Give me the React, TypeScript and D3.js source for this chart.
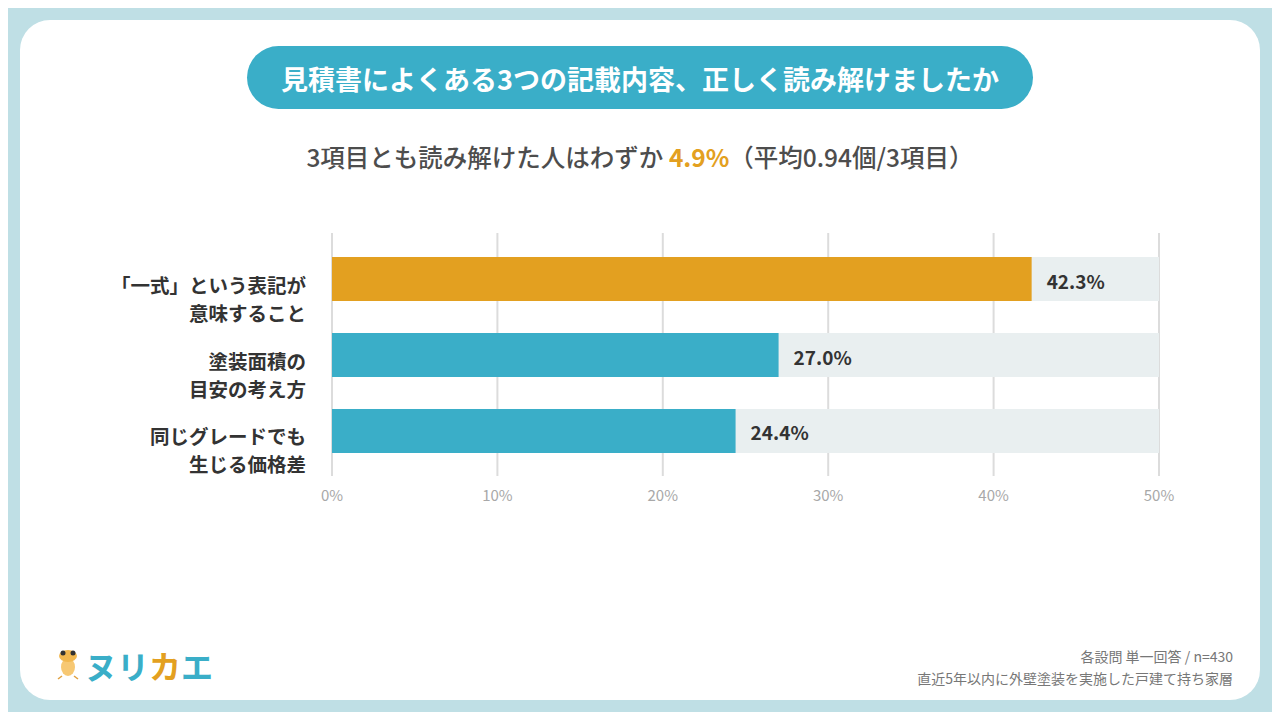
import React from "react";
import * as d3 from "d3";

const categories = [
  ["「一式」という表記が", "意味すること"],
  ["塗装面積の", "目安の考え方"],
  ["同じグレードでも", "生じる価格差"],
];
const values = [42.3, 27.0, 24.4];
const barColors = ["#e3a020", "#3aaec8", "#3aaec8"];
const ticks = [0, 10, 20, 30, 40, 50];
const title = "見積書によくある3つの記載内容、正しく読み解けましたか";
const footer = ["各設問 単一回答 / n=430", "直近5年以内に外壁塗装を実施した戸建て持ち家層"];

const FONT = "'Noto Sans CJK JP', 'Noto Sans', sans-serif";

export default function App() {
  const W = 1280, H = 720;
  const x = d3.scaleLinear().domain([0, 50]).range([332, 1159]);
  const y = d3.scaleBand<number>().domain(d3.range(categories.length)).range([257, 453]).paddingInner(0.421).paddingOuter(0);
  const bh = y.bandwidth();
  return (
    <div style={{ margin: -8, width: W, height: H }}>
      <svg width={W} height={H} style={{ display: "block", fontFamily: FONT }}>
        <rect x={0} y={0} width={W} height={H} fill="#bfdfe5" />
        <rect x={20} y={20} width={1240} height={680} rx={30} fill="#ffffff" />
        {/* title pill */}
        <rect x={247} y={46} width={786} height={63} rx={31.5} fill="#3aaec8" />
        <text x={640} y={78} textAnchor="middle" dominantBaseline="central" fill="#fff" fontSize={27} fontWeight={700}>{title}</text>
        {/* subtitle */}
        <text x={640} y={156} textAnchor="middle" dominantBaseline="central" fontSize={24.5} fill="#4d4d4d" fontWeight={500}>
          3項目とも読み解けた人はわずか <tspan fill="#e3a020" fontWeight={700}>4.9%</tspan>（平均0.94個/3項目）
        </text>
        {/* grid */}
        {ticks.map((t) => (
          <g key={t}>
            <line x1={x(t)} x2={x(t)} y1={233} y2={476} stroke="#dcdcdc" strokeWidth={2} />
            <text x={x(t)} y={494} textAnchor="middle" dominantBaseline="central" fontSize={15} fill="#a8a8a8">{t}%</text>
          </g>
        ))}
        {values.map((v, i) => {
          const y0 = y(i)!;
          return (
            <g key={i}>
              <rect x={x(0)} y={y0} width={x(50) - x(0)} height={bh} fill="#e9eff0" />
              <rect x={x(0)} y={y0} width={x(v) - x(0)} height={bh} fill={barColors[i]} />
              <text x={x(v) + 15} y={y0 + bh / 2 + 1} dominantBaseline="central" fontSize={19} fontWeight={700} fill="#333">{v.toFixed(1)}%</text>
              <text x={306} y={y0 + bh / 2 + 5} textAnchor="end" dominantBaseline="central" fontSize={19.5} fontWeight={700} fill="#333">{categories[i][0]}</text>
              <text x={306} y={y0 + bh / 2 + 33} textAnchor="end" dominantBaseline="central" fontSize={19.5} fontWeight={700} fill="#333">{categories[i][1]}</text>
            </g>
          );
        })}
        {/* logo */}
        <g>
          <ellipse cx={68} cy={667} rx={7} ry={9} fill="#f7c873" />
          <ellipse cx={68} cy={656} rx={9} ry={6} fill="#f2b84f" />
          <circle cx={63} cy={653} r={2.5} fill="#333" />
          <circle cx={73} cy={653} r={2.5} fill="#333" />
          <line x1={62} y1={676} x2={58} y2={679} stroke="#e0a040" strokeWidth={1.5} />
          <line x1={74} y1={676} x2={78} y2={679} stroke="#e0a040" strokeWidth={1.5} />
          <text x={85} y={665} dominantBaseline="central" fontSize={32} fontWeight={700} fill="#3aaec8">
            ヌリ<tspan fill="#e3a020">カ</tspan>エ
          </text>
        </g>
        {/* footer */}
        <text x={1233} y={656} textAnchor="end" dominantBaseline="central" fontSize={14} fill="#777">{footer[0]}</text>
        <text x={1233} y={678} textAnchor="end" dominantBaseline="central" fontSize={14} fill="#777">{footer[1]}</text>
      </svg>
    </div>
  );
}
